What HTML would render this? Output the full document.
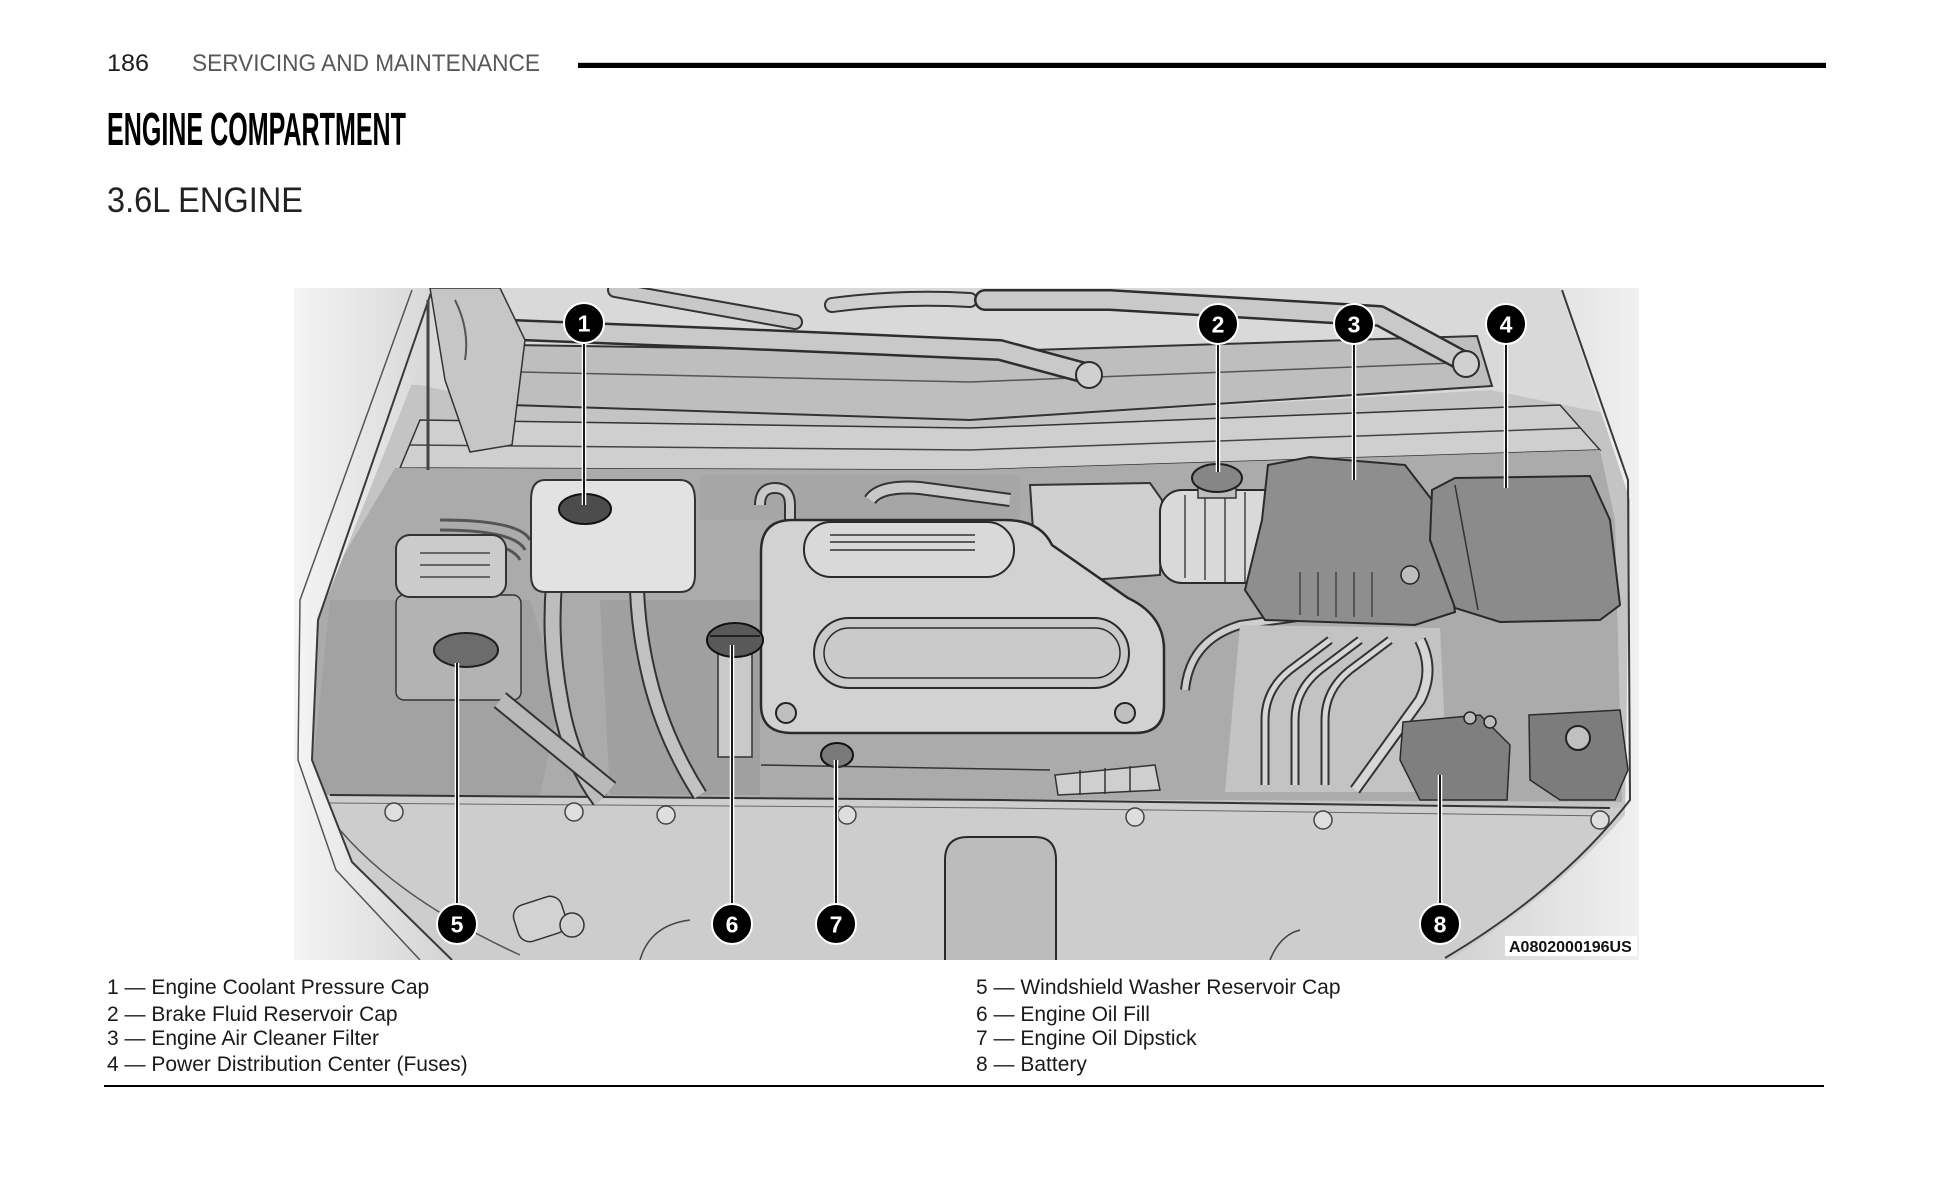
<!DOCTYPE html>
<html>
<head>
<meta charset="utf-8">
<style>
  html,body{margin:0;padding:0;background:#fff;}
  body{width:1946px;height:1177px;position:relative;overflow:hidden;font-family:"Liberation Sans",Arial,sans-serif;}
  .t{position:absolute;white-space:nowrap;transform-origin:0 0;}
  .leg{position:absolute;white-space:nowrap;font-size:21px;line-height:21px;color:#1a1a1a;}
</style>
</head>
<body>

<!-- Header -->
<div class="t" style="left:107px;top:51.7px;font-size:24px;line-height:24px;color:#1e1e1e;transform:scaleX(1.05);">186</div>
<div class="t" style="left:192px;top:51.7px;font-size:24px;line-height:24px;color:#58585a;transform:scaleX(0.943);">SERVICING AND MAINTENANCE</div>
<div style="position:absolute;left:578px;top:62px;width:1248px;height:1px;background:#cfcfcf;"></div>
<div style="position:absolute;left:578px;top:63px;width:1248px;height:5px;background:#000;"></div>

<div class="t" style="left:107px;top:106.1px;font-size:46px;line-height:46px;font-weight:bold;color:#000;transform:scaleX(0.545);">ENGINE COMPARTMENT</div>
<div class="t" style="left:107px;top:183.4px;font-size:35px;line-height:35px;color:#222;transform:scaleX(0.93);">3.6L ENGINE</div>

<!-- Illustration -->
<svg style="position:absolute;left:294px;top:288px;" width="1345" height="672" viewBox="294 288 1345 672" xmlns="http://www.w3.org/2000/svg">
  <defs>
    <linearGradient id="lf" x1="0" y1="0" x2="1" y2="0">
      <stop offset="0" stop-color="#f4f4f4"/>
      <stop offset="1" stop-color="#d4d4d4"/>
    </linearGradient>
    <linearGradient id="rf" x1="1" y1="0" x2="0" y2="0">
      <stop offset="0" stop-color="#f0f0f0"/>
      <stop offset="1" stop-color="#d2d2d2"/>
    </linearGradient>
  </defs>
  <rect x="294" y="288" width="1345" height="672" fill="#c4c4c4"/>

  <!-- top windshield zone -->
  <path d="M294,288 H1639 V420 L1490,390 L970,420 L511,405 L420,385 L294,385 Z" fill="#d9d9d9"/>

  <!-- wiper blade top-left -->
  <path d="M615,290 L795,322" stroke="#333" stroke-width="16" stroke-linecap="round"/>
  <path d="M615,290 L795,322" stroke="#c8c8c8" stroke-width="12" stroke-linecap="round"/>
  <path d="M832,305 Q900,296 970,300" stroke="#333" stroke-width="16" stroke-linecap="round" fill="none"/>
  <path d="M832,305 Q900,296 970,300" stroke="#cfcfcf" stroke-width="12" stroke-linecap="round" fill="none"/>

  <!-- cowl panel -->
  <path d="M511,345 L970,352 L1477,336 L1492,386 L970,420 L511,405 Z" fill="#bebebe" stroke="#333" stroke-width="2"/>
  <path d="M520,372 L970,382 L1480,362" stroke="#555" stroke-width="1.5" fill="none"/>

  <!-- wiper arms -->
  <path d="M515,330 L720,338 L1000,350 L1089,374" stroke="#2e2e2e" stroke-width="22" stroke-linecap="round" stroke-linejoin="round" fill="none"/>
  <path d="M515,330 L720,338 L1000,350 L1089,374" stroke="#c9c9c9" stroke-width="17" stroke-linecap="round" stroke-linejoin="round" fill="none"/>
  <circle cx="1089" cy="375" r="13" fill="#d0d0d0" stroke="#2e2e2e" stroke-width="2"/>
  <path d="M985,300 L1110,300 L1380,316 L1465,362" stroke="#2e2e2e" stroke-width="22" stroke-linecap="round" stroke-linejoin="round" fill="none"/>
  <path d="M985,300 L1110,300 L1380,316 L1465,362" stroke="#c9c9c9" stroke-width="17" stroke-linecap="round" stroke-linejoin="round" fill="none"/>
  <circle cx="1466" cy="364" r="13" fill="#d0d0d0" stroke="#2e2e2e" stroke-width="2"/>

  <!-- firewall strip -->
  <path d="M420,420 L970,428 L1560,405 L1600,450 L970,470 L400,468 Z" fill="#cfcfcf" stroke="#333" stroke-width="1.5"/>
  <path d="M410,445 L970,450 L1580,428" stroke="#444" stroke-width="1.5" fill="none"/>

  <!-- engine bay -->
  <path d="M395,468 L970,470 L1600,450 L1615,520 L1622,802 L306,796 L303,625 Z" fill="#ababab"/>
  <!-- darker zones -->
  <path d="M330,600 L530,600 L560,700 L540,795 L310,795 Z" fill="#a2a2a2"/>
  <path d="M600,600 L760,600 L760,795 L610,795 Z" fill="#a0a0a0"/>
  <path d="M700,475 L1020,475 L1020,520 L700,520 Z" fill="#a6a6a6"/>

  <!-- back hoses -->
  <path d="M870,500 Q880,485 920,488 L1010,500" stroke="#333" stroke-width="14" fill="none"/>
  <path d="M870,500 Q880,485 920,488 L1010,500" stroke="#c8c8c8" stroke-width="10" fill="none"/>
  <path d="M760,505 Q760,488 775,488 Q790,488 790,505 V530" stroke="#333" stroke-width="12" fill="none"/>
  <path d="M760,505 Q760,488 775,488 Q790,488 790,505 V530" stroke="#c8c8c8" stroke-width="8" fill="none"/>
  <path d="M440,520 Q520,520 530,540" stroke="#555" stroke-width="3" fill="none"/>
  <path d="M440,530 Q515,530 525,550" stroke="#555" stroke-width="3" fill="none"/>
  <path d="M440,540 Q510,540 520,560" stroke="#555" stroke-width="3" fill="none"/>

  <!-- front zone -->
  <path d="M303,795 L1000,800 L1625,808 L1639,812 V960 H294 V795 Z" fill="#cdcdcd"/>
  <path d="M330,795 L1000,800 L1610,808" stroke="#333" stroke-width="2" fill="none"/>
  <path d="M330,803 L1000,808 L1610,816" stroke="#666" stroke-width="1" fill="none"/>

  <!-- left fender -->
  <path d="M294,288 L432,288 L445,300 L318,620 L312,760 L350,860 L450,960 L294,960 Z" fill="url(#lf)"/>
  <path d="M432,290 L318,620 L312,760 L352,862 L452,960" stroke="#3a3a3a" stroke-width="2" fill="none"/>
  <path d="M412,290 L300,600 L298,760 L336,870 L420,960" stroke="#555" stroke-width="1.5" fill="none"/>
  <path d="M340,830 Q400,900 520,955" stroke="#555" stroke-width="1.5" fill="none"/>

  <!-- right fender -->
  <path d="M1560,288 L1639,288 L1639,960 L1450,960 Q1560,890 1625,815 L1630,500 Z" fill="url(#rf)"/>
  <path d="M1562,290 L1628,480 L1630,800 Q1560,890 1445,958" stroke="#3a3a3a" stroke-width="2" fill="none"/>

  <!-- hood strut / hinge top-left -->
  <path d="M430,288 L500,288 L525,340 L512,445 L470,452 L445,380 Z" fill="#c6c6c6" stroke="#333" stroke-width="1.5"/>
  <path d="M428,300 L428,470" stroke="#444" stroke-width="3"/>
  <path d="M455,300 Q470,330 465,360" stroke="#555" stroke-width="2" fill="none"/>

  <!-- washer reservoir -->
  <rect x="396" y="595" width="125" height="105" rx="8" fill="#b3b3b3" stroke="#333" stroke-width="1.5"/>
  <rect x="396" y="535" width="110" height="62" rx="14" fill="#cbcbcb" stroke="#333" stroke-width="2"/>
  <path d="M420,553 H490 M420,565 H490 M420,577 H490" stroke="#444" stroke-width="1.5"/>
  <ellipse cx="466" cy="650" rx="32" ry="17" fill="#6c6c6c" stroke="#1e1e1e" stroke-width="2"/>

  <!-- hoses left -->
  <path d="M560,540 Q545,620 560,700 Q570,760 600,800" stroke="#333" stroke-width="18" fill="none"/>
  <path d="M560,540 Q545,620 560,700 Q570,760 600,800" stroke="#bdbdbd" stroke-width="14" fill="none"/>
  <path d="M640,520 Q630,600 650,680 Q665,740 700,795" stroke="#333" stroke-width="16" fill="none"/>
  <path d="M640,520 Q630,600 650,680 Q665,740 700,795" stroke="#c2c2c2" stroke-width="12" fill="none"/>
  <path d="M500,700 L610,790" stroke="#333" stroke-width="20" fill="none"/>
  <path d="M500,700 L610,790" stroke="#b9b9b9" stroke-width="16" fill="none"/>

  <!-- coolant reservoir -->
  <path d="M545,480 H680 Q695,480 695,500 V575 Q695,592 680,592 H545 Q531,592 531,575 V500 Q531,480 545,480 Z" fill="#e2e2e2" stroke="#333" stroke-width="2"/>
  <ellipse cx="585" cy="509" rx="26" ry="15" fill="#4c4c4c" stroke="#111" stroke-width="2"/>

  <!-- intake box behind cover -->
  <path d="M1030,485 L1150,483 L1162,500 L1160,575 L1090,580 L1035,560 Z" fill="#d0d0d0" stroke="#333" stroke-width="2"/>

  <!-- engine cover -->
  <path d="M792,520 H1005 Q1040,520 1052,545 L1128,598 Q1164,615 1164,650 V705 Q1164,733 1135,733 H792 Q761,733 761,705 V552 Q761,520 792,520 Z" fill="#d2d2d2" stroke="#2a2a2a" stroke-width="2.5"/>
  <rect x="804" y="522" width="210" height="55" rx="27" fill="#d9d9d9" stroke="#2a2a2a" stroke-width="2"/>
  <path d="M830,535 H975 M830,542 H975 M830,550 H975" stroke="#333" stroke-width="1.5"/>
  <rect x="814" y="618" width="315" height="70" rx="35" fill="#cacaca" stroke="#2a2a2a" stroke-width="2"/>
  <rect x="824" y="628" width="296" height="50" rx="25" fill="none" stroke="#2a2a2a" stroke-width="1.5"/>
  <circle cx="786" cy="713" r="10" fill="#bfbfbf" stroke="#222" stroke-width="2"/>
  <circle cx="1125" cy="713" r="10" fill="#bfbfbf" stroke="#222" stroke-width="2"/>

  <!-- tube under air cleaner -->
  <path d="M1185,690 Q1190,640 1240,625 L1420,600" stroke="#333" stroke-width="10" fill="none"/>
  <path d="M1185,690 Q1190,640 1240,625 L1420,600" stroke="#cfcfcf" stroke-width="6" fill="none"/>

  <!-- bellows -->
  <rect x="1160" y="490" width="142" height="93" rx="22" fill="#d9d9d9" stroke="#2a2a2a" stroke-width="2"/>
  <path d="M1185,495 V578 M1205,493 V580 M1225,492 V582 M1245,492 V582 M1265,493 V580 M1285,496 V576" stroke="#444" stroke-width="1.5"/>

  <!-- brake fluid cap -->
  <rect x="1198" y="476" width="38" height="22" fill="#bdbdbd" stroke="#333" stroke-width="1.5"/>
  <ellipse cx="1217" cy="478" rx="25" ry="14" fill="#868686" stroke="#1e1e1e" stroke-width="2"/>

  <!-- air cleaner -->
  <path d="M1268,465 L1310,457 L1405,465 L1432,500 L1450,580 L1455,612 L1415,625 L1265,620 L1245,590 L1262,520 Z" fill="#8e8e8e" stroke="#2a2a2a" stroke-width="2"/>
  <path d="M1300,572 V615 M1318,572 V616 M1336,572 V617 M1354,572 V617 M1372,572 V617" stroke="#444" stroke-width="1.5"/>
  <circle cx="1410" cy="575" r="9" fill="#bdbdbd" stroke="#222" stroke-width="1.5"/>

  <!-- PDC -->
  <path d="M1432,490 L1455,478 L1590,476 L1610,520 L1620,605 L1600,620 L1500,622 L1455,608 L1430,540 Z" fill="#8b8b8b" stroke="#2a2a2a" stroke-width="2"/>
  <path d="M1455,485 L1478,610" stroke="#333" stroke-width="1.5"/>

  <!-- intake runners -->
  <path d="M1240,625 L1440,628 L1448,792 L1225,792 Z" fill="#c3c3c3"/>
  <path d="M1265,785 V720 Q1265,690 1290,670 L1330,640" stroke="#333" stroke-width="9" fill="none"/>
  <path d="M1265,785 V720 Q1265,690 1290,670 L1330,640" stroke="#d6d6d6" stroke-width="5" fill="none"/>
  <path d="M1295,785 V720 Q1295,690 1320,670 L1360,640" stroke="#333" stroke-width="9" fill="none"/>
  <path d="M1295,785 V720 Q1295,690 1320,670 L1360,640" stroke="#d6d6d6" stroke-width="5" fill="none"/>
  <path d="M1325,785 V720 Q1325,690 1350,670 L1390,640" stroke="#333" stroke-width="9" fill="none"/>
  <path d="M1325,785 V720 Q1325,690 1350,670 L1390,640" stroke="#d6d6d6" stroke-width="5" fill="none"/>
  <path d="M1355,790 L1420,700 Q1435,670 1420,640" stroke="#333" stroke-width="12" fill="none"/>
  <path d="M1355,790 L1420,700 Q1435,670 1420,640" stroke="#d6d6d6" stroke-width="8" fill="none"/>
  <path d="M1055,775 L1155,765 L1160,790 L1058,795 Z" fill="#cfcfcf" stroke="#333" stroke-width="1.5"/>
  <path d="M1080,770 V795 M1105,768 V794 M1130,766 V792" stroke="#333" stroke-width="1.5"/>

  <!-- battery -->
  <path d="M1403,722 L1480,715 L1510,745 L1507,800 L1420,800 L1400,760 Z" fill="#7f7f7f" stroke="#2a2a2a" stroke-width="1.5"/>
  <path d="M1529,715 L1620,710 L1628,770 L1615,800 L1560,800 L1530,780 Z" fill="#7c7c7c" stroke="#2a2a2a" stroke-width="1.5"/>
  <circle cx="1578" cy="738" r="12" fill="#c0c0c0" stroke="#222" stroke-width="2"/>
  <circle cx="1470" cy="718" r="6" fill="#bbb" stroke="#222" stroke-width="1.5"/>
  <circle cx="1490" cy="722" r="6" fill="#bbb" stroke="#222" stroke-width="1.5"/>

  <!-- oil fill -->
  <rect x="718" y="652" width="34" height="105" fill="#c9c9c9" stroke="#333" stroke-width="1.5"/>
  <ellipse cx="735" cy="640" rx="28" ry="17" fill="#595959" stroke="#111" stroke-width="2"/>
  <path d="M710,636 H760" stroke="#222" stroke-width="2"/>

  <!-- dipstick -->
  <ellipse cx="837" cy="755" rx="16" ry="12" fill="#7a7a7a" stroke="#111" stroke-width="2"/>

  <!-- lower engine edge line -->
  <path d="M761,765 L1050,770" stroke="#333" stroke-width="1.5"/>

  <!-- hood latch -->
  <path d="M945,960 V860 Q945,837 968,837 H1035 Q1056,837 1056,860 V960" fill="#bcbcbc" stroke="#2a2a2a" stroke-width="2"/>

  <!-- front holes -->
  <g fill="#dedede" stroke="#444" stroke-width="1.5">
    <circle cx="394" cy="812" r="9"/>
    <circle cx="574" cy="812" r="9"/>
    <circle cx="666" cy="815" r="9"/>
    <circle cx="847" cy="815" r="9"/>
    <circle cx="1135" cy="817" r="9"/>
    <circle cx="1323" cy="820" r="9"/>
    <circle cx="1600" cy="820" r="9"/>
  </g>
  <rect x="515" y="900" width="50" height="38" rx="12" fill="#d2d2d2" stroke="#333" stroke-width="1.5" transform="rotate(-18 540 919)"/>
  <circle cx="572" cy="925" r="12" fill="#d0d0d0" stroke="#333" stroke-width="1.5"/>
  <path d="M640,960 Q650,925 690,920" stroke="#444" stroke-width="1.5" fill="none"/>
  <path d="M1270,960 Q1280,935 1300,930" stroke="#444" stroke-width="1.5" fill="none"/>

  <!-- Callout leader lines -->
  <g stroke-linecap="butt">
    <g stroke="#fff" stroke-width="4.5">
      <path d="M584,323 V505 M1218,324 V472 M1354,324 V480 M1506,324 V488 M457,924 V663 M732,924 V645 M836,924 V760 M1440,924 V775"/>
    </g>
    <g stroke="#000" stroke-width="1.8">
      <path d="M584,323 V505 M1218,324 V472 M1354,324 V480 M1506,324 V488 M457,924 V663 M732,924 V645 M836,924 V760 M1440,924 V775"/>
    </g>
  </g>
  <!-- Callout circles -->
  <g fill="#000" stroke="#fff" stroke-width="2">
    <circle cx="584" cy="323" r="20"/>
    <circle cx="1218" cy="324" r="20"/>
    <circle cx="1354" cy="324" r="20"/>
    <circle cx="1506" cy="324" r="20"/>
    <circle cx="457" cy="924" r="20"/>
    <circle cx="732" cy="924" r="20"/>
    <circle cx="836" cy="924" r="20"/>
    <circle cx="1440" cy="924" r="20"/>
  </g>
  <g fill="#fff" font-family="Liberation Sans, Arial, sans-serif" font-weight="bold" font-size="23" text-anchor="middle">
    <text x="584" y="331.5">1</text>
    <text x="1218" y="332.5">2</text>
    <text x="1354" y="332.5">3</text>
    <text x="1506" y="332.5">4</text>
    <text x="457" y="932.5">5</text>
    <text x="732" y="932.5">6</text>
    <text x="836" y="932.5">7</text>
    <text x="1440" y="932.5">8</text>
  </g>

  <!-- figure ID -->
  <rect x="1505" y="936" width="132" height="20" fill="#fff"/>
  <text x="1509" y="952" font-family="Liberation Sans, Arial, sans-serif" font-weight="bold" font-size="16" fill="#111">A0802000196US</text>
</svg>

<!-- Legend -->
<div class="leg" style="left:107px;top:977.2px;">1 — Engine Coolant Pressure Cap</div>
<div class="leg" style="left:107px;top:1003.7px;">2 — Brake Fluid Reservoir Cap</div>
<div class="leg" style="left:107px;top:1028.2px;">3 — Engine Air Cleaner Filter</div>
<div class="leg" style="left:107px;top:1054.2px;">4 — Power Distribution Center (Fuses)</div>

<div class="leg" style="left:976px;top:977.2px;">5 — Windshield Washer Reservoir Cap</div>
<div class="leg" style="left:976px;top:1003.7px;">6 — Engine Oil Fill</div>
<div class="leg" style="left:976px;top:1028.2px;">7 — Engine Oil Dipstick</div>
<div class="leg" style="left:976px;top:1054.2px;">8 — Battery</div>

<div style="position:absolute;left:104px;top:1085px;width:1720px;height:2px;background:#000;"></div>

</body>
</html>
